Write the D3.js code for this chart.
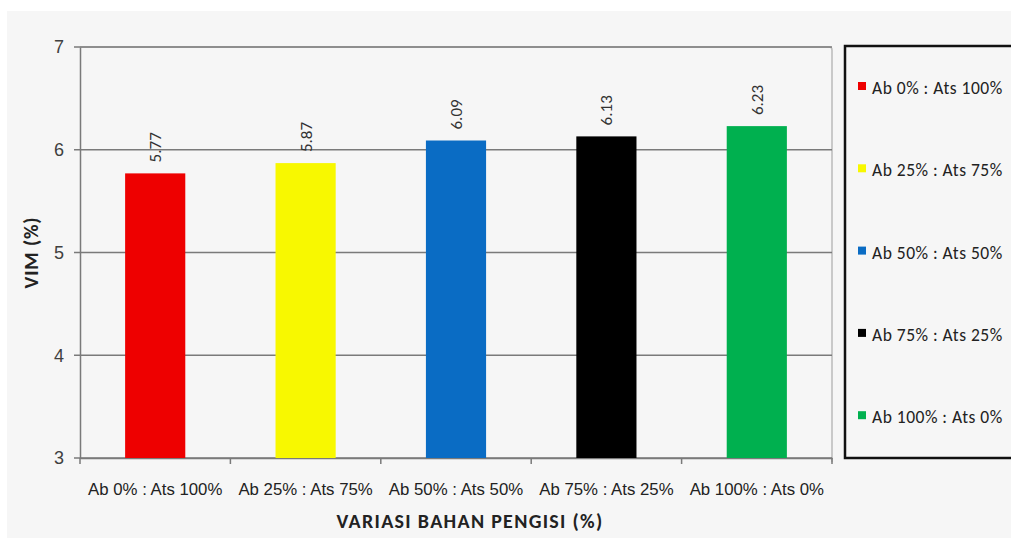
<!DOCTYPE html>
<html><head><meta charset="utf-8">
<script src="https://cdn.jsdelivr.net/npm/d3@7"></script>
<style>body{margin:0;background:#fff;}svg{display:block;font-family:Calibri,"Liberation Sans","Open Sans",sans-serif;}</style>
</head><body><svg id="c" width="1011" height="538"></svg>
<script>
const categories = ["Ab 0% : Ats 100%","Ab 25% : Ats 75%","Ab 50% : Ats 50%","Ab 75% : Ats 25%","Ab 100% : Ats 0%"];
const values = [5.77, 5.87, 6.09, 6.13, 6.23];
const colors = ["#ee0000","#f8f800","#0a6cc4","#000000","#00b04f"];
const yTicks = [3,4,5,6,7];
const yTitle = "VIM (%)";
const xTitle = "VARIASI BAHAN PENGISI (%)";

const svg = d3.select("#c");
svg.append("rect").attr("x",7).attr("y",11).attr("width",1004).attr("height",527).attr("fill","#f6f6f6");

const L=80, R=832, T=47, B=458;
const x = d3.scaleBand().domain(categories).range([L,R]).paddingInner(0.6).paddingOuter(0.3);
const y = d3.scaleLinear().domain([3,7]).range([B,T]);

svg.append("path").attr("d",`M${L},${T}H${R-3}Q${R},${T} ${R},${T+3}V${B+4}`).attr("fill","none").attr("stroke","#bbbbbb").attr("stroke-width",1.5);

svg.append("g").selectAll("line").data(yTicks).join("line")
  .attr("x1",L-6).attr("x2",R).attr("y1",d=>y(d)).attr("y2",d=>y(d))
  .attr("stroke","#7a7a7a").attr("stroke-width",1.5);

const ya = svg.append("g").attr("transform",`translate(${L},0)`).call(d3.axisLeft(y).tickValues(yTicks).tickSize(0).tickPadding(16).tickFormat(d3.format("d")));
ya.select(".domain").attr("stroke","#7a7a7a").attr("stroke-width",1.5);
ya.selectAll("text").attr("font-size",18).attr("fill","#404040");

const xa = svg.append("g").attr("transform",`translate(0,${B})`).call(d3.axisBottom(x).tickSize(0).tickPadding(25));
xa.select(".domain").attr("stroke","#7a7a7a").attr("stroke-width",1.5);
xa.selectAll("text").attr("font-size",16.8).attr("fill","#222");
const bounds = categories.map((c,i)=>L + (R-L)*i/categories.length).concat([R]);
svg.append("g").selectAll("line").data(bounds).join("line")
  .attr("x1",d=>d).attr("x2",d=>d).attr("y1",B).attr("y2",B+6).attr("stroke","#7a7a7a").attr("stroke-width",1.5);

svg.append("g").selectAll("rect").data(values).join("rect")
  .attr("x",(d,i)=>x(categories[i])).attr("width",x.bandwidth())
  .attr("y",d=>y(d)).attr("height",d=>B-y(d)).attr("fill",(d,i)=>colors[i]);

svg.append("g").selectAll("text").data(values).join("text")
  .attr("transform",(d,i)=>`translate(${x(categories[i])+x.bandwidth()/2+6},${y(d)-11}) rotate(-90)`)
  .attr("font-size",17).attr("fill","#333").text(d=>d.toFixed(2));

svg.append("text").attr("transform",`translate(38,${(T+B)/2}) rotate(-90)`).attr("text-anchor","middle")
  .attr("font-size",20).attr("font-weight","bold").attr("fill","#222").attr("letter-spacing","0.8").text(yTitle);
svg.append("text").attr("x",470).attr("y",528).attr("text-anchor","middle")
  .attr("font-size",20).attr("font-weight","bold").attr("fill","#222").attr("letter-spacing","1.3").text(xTitle);

svg.append("rect").attr("x",845).attr("y",46).attr("width",180).attr("height",412).attr("fill","none").attr("stroke","#111").attr("stroke-width",2.5);
const lg = svg.append("g").selectAll("g").data(categories).join("g")
  .attr("transform",(d,i)=>`translate(858,${88 + i*82.3})`);
lg.append("rect").attr("x",0).attr("y",-6).attr("width",8).attr("height",8).attr("fill",(d,i)=>colors[i]);
lg.append("text").attr("x",14).attr("y",6).attr("font-size",17.5).attr("fill","#222").attr("letter-spacing","0.5").text(d=>d);
</script></body></html>
